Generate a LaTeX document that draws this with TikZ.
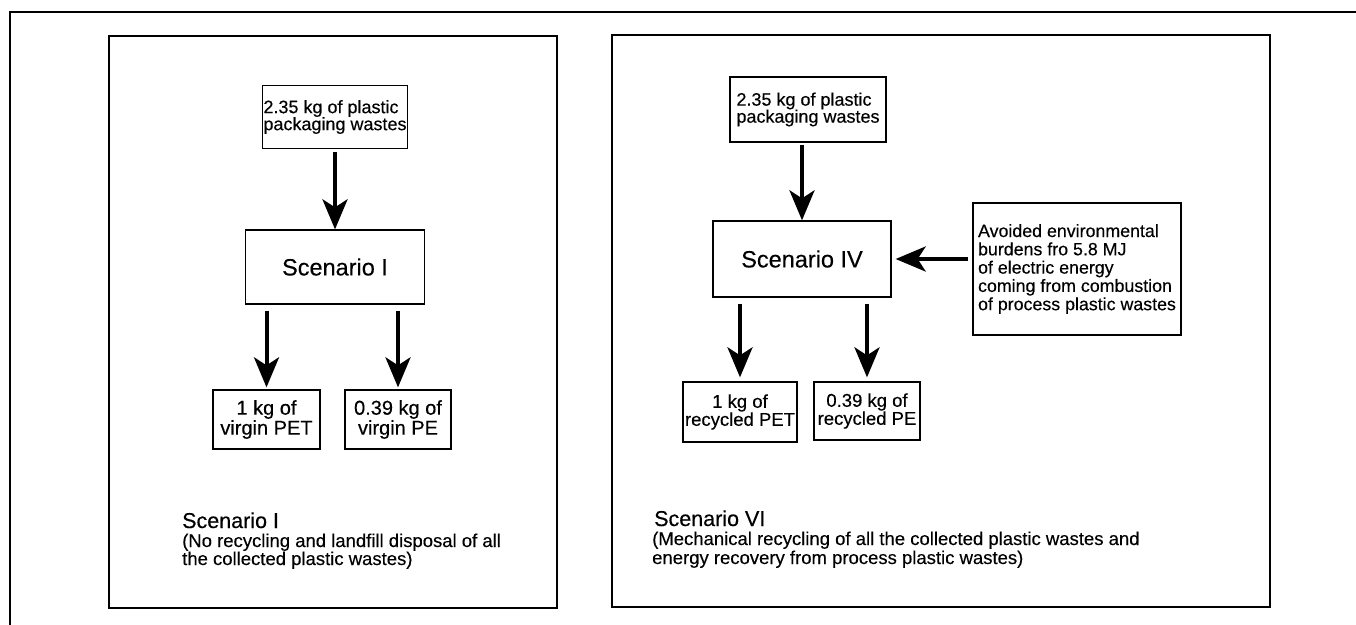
\documentclass[tikz,border=0pt]{standalone}
\usepackage{fontspec}
\setmainfont{Liberation Sans}[FakeBold=0.3]
\usetikzlibrary{arrows.meta}
\begin{document}
\begin{tikzpicture}[x=1pt,y=-1pt,
  frame/.style={line width=1.4pt},
  box/.style={draw, line width=1.3pt, inner sep=0pt, align=center},
  arr/.style={line width=4pt, -{Stealth[length=30pt,width=25pt,inset=8pt]}},
  toptxt/.style={font=\fontsize{18}{17}\selectfont},
  avtxt/.style={font=\fontsize{17.8}{18.3}\selectfont},
  rectxt/.style={font=\fontsize{18.5}{18}\selectfont},
  plaintxt/.style={font=\fontsize{20}{20}\selectfont},
  scen/.style={font=\fontsize{23.5}{24}\selectfont},
  captitle/.style={anchor=base west, inner sep=0pt, font=\fontsize{21.5}{22}\selectfont},
  capline/.style={anchor=base west, inner sep=0pt, font=\fontsize{18.5}{19}\selectfont}]
\useasboundingbox (0,0) rectangle (1356,624);
\draw[frame] (10,630) -- (10,12) -- (1362,12);
\draw[frame] (109,36) rectangle (557,608);
\draw[frame] (612,35) rectangle (1270,607);
% left panel
\node[box, toptxt, align=left, minimum width=145pt, minimum height=63pt] (topL) at (335,117) {2.35 kg of plastic\\packaging wastes};
\node[box, scen, minimum width=179pt, minimum height=74pt] (scL) at (335,267) {Scenario I};
\node[box, plaintxt, minimum width=107pt, minimum height=59pt] (petL) at (266.5,419.5) {1 kg of\\virgin PET};
\node[box, plaintxt, minimum width=106pt, minimum height=59pt] (peL) at (398,419.5) {0.39 kg of\\virgin PE};
\draw[arr, shorten <=3pt] (topL) -- (scL);
\draw[arr, shorten <=6pt, shorten >=2pt] (scL.south -| petL.north) -- (petL.north);
\draw[arr, shorten <=6pt, shorten >=2pt] (scL.south -| peL.north) -- (peL.north);
\node[captitle] (capLt) at (182,528) {Scenario I};
\node[capline] (capL1) at (182,547) {(No recycling and landfill disposal of all};
\node[capline] (capL2) at (182,565) {the collected plastic wastes)};
% right panel
\node[box, toptxt, align=left, minimum width=156pt, minimum height=65pt] (topR) at (808,109.5) {2.35 kg of plastic\\packaging wastes};
\node[box, scen, minimum width=178pt, minimum height=76pt] (scR) at (802,259) {Scenario IV};
\node[box, avtxt, align=left, minimum width=208pt, minimum height=132pt] (avR) at (1077,269) {Avoided environmental\\burdens fro 5.8 MJ\\of electric energy\\coming from combustion\\of process plastic wastes};
\node[box, rectxt, minimum width=114pt, minimum height=60pt] (petR) at (740,412) {1 kg of\\recycled PET};
\node[box, rectxt, minimum width=106pt, minimum height=58pt] (peR) at (867,411) {0.39 kg of\\recycled PE};
\draw[arr, shorten <=2pt] (topR.south -| scR.north) -- (scR.north);
\draw[arr, shorten <=4pt, shorten >=4pt] (avR.west |- scR.east) -- (scR.east);
\draw[arr, shorten <=6pt, shorten >=4pt] (scR.south -| petR.north) -- (petR.north);
\draw[arr, shorten <=6pt, shorten >=4pt] (scR.south -| peR.north) -- (peR.north);
\node[captitle] (capRt) at (654,526) {Scenario VI};
\node[capline] (capR1) at (652,545) {(Mechanical recycling of all the collected plastic wastes and};
\node[capline] (capR2) at (652,564) {energy recovery from process plastic wastes)};
\end{tikzpicture}
\end{document}
